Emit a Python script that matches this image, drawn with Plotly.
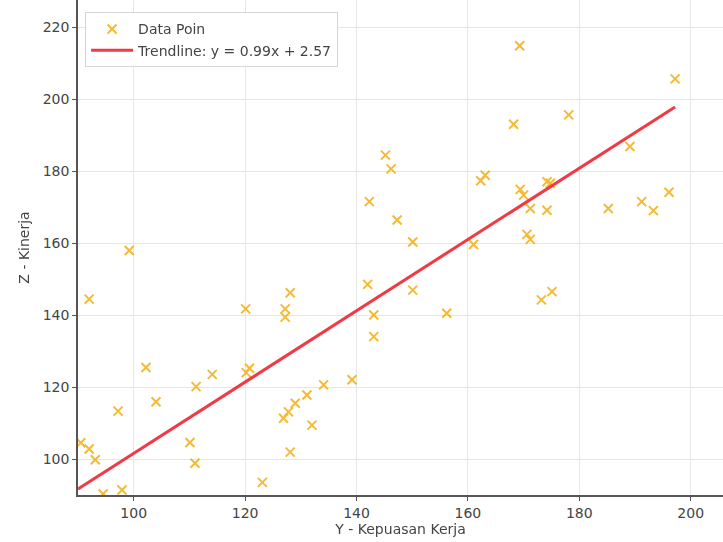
import plotly.graph_objects as go

kepuasan = [90.5, 92.0, 93.1, 92.0, 99.2, 97.2, 97.9, 94.5, 102.2, 104.0,
            111.2, 110.1, 111.0, 114.1, 120.1, 120.2, 120.8, 123.1, 127.2, 127.2,
            128.1, 126.9, 127.8, 129.0, 131.1, 132.0, 128.1, 134.1, 139.2, 142.0,
            143.1, 143.1, 150.1, 150.1, 156.2, 161.0, 170.6, 171.2, 173.2, 175.1,
            169.3, 197.2, 168.2, 178.1, 145.2, 146.2, 189.1, 142.3, 147.3, 162.3,
            163.1, 169.4, 170.0, 171.2, 174.2, 174.8, 174.2, 185.2, 191.2, 193.3,
            196.1]
kinerja = [104.5, 102.8, 99.8, 144.4, 157.9, 113.3, 91.4, 90.3, 125.4, 115.9,
           120.1, 104.6, 98.8, 123.5, 141.7, 124.0, 125.2, 93.5, 141.7, 139.4,
           146.2, 111.3, 113.1, 115.5, 117.8, 109.4, 101.9, 120.6, 122.0, 148.5,
           140.0, 134.0, 160.3, 146.9, 140.5, 159.6, 162.4, 161.0, 144.2, 146.5,
           214.8, 205.6, 193.0, 195.6, 184.4, 180.6, 186.8, 171.5, 166.4, 177.3,
           178.8, 174.9, 173.3, 169.6, 177.0, 176.6, 169.1, 169.6, 171.5, 169.0,
           174.1]

slope = 0.99
intercept = 2.57
x_range = [90, 205.8]
y_range = [90, 227.5]
y_ticks = [100, 120, 140, 160, 180, 200, 220]
x_ticks = [100, 120, 140, 160, 180, 200]

line_x = [90, max(kepuasan)]
line_y = [slope * v + intercept for v in line_x]

fig = go.Figure()
fig.add_trace(go.Scatter(
    x=kepuasan, y=kinerja, mode="markers", name="Data Poin",
    marker=dict(symbol="x-thin", size=9, color="#F4AE10",
                line=dict(width=2, color="#F4AE10")),
    opacity=0.85,
))
fig.add_trace(go.Scatter(
    x=line_x, y=line_y, mode="lines",
    name=f"Trendline: y = {slope:.2f}x + {intercept:.2f}",
    line=dict(color="#EE3B46", width=3),
))

axis_common = dict(
    showgrid=True, gridcolor="#E6E6E6", gridwidth=1,
    showline=True, linecolor="#555555", linewidth=1.5,
    ticks="outside", ticklen=4, tickcolor="#555555",
    tickfont=dict(family="DejaVu Sans", size=14, color="#444444"),
    zeroline=False,
)

fig.update_layout(
    width=723, height=542,
    margin=dict(l=78, r=0, t=0, b=47),
    paper_bgcolor="white", plot_bgcolor="white",
    showlegend=True,
    legend=dict(x=0.011, y=0.975, xanchor="left", yanchor="top",
                bgcolor="rgba(255,255,255,0.9)", bordercolor="#D5D5D5", borderwidth=1,
                font=dict(family="DejaVu Sans", size=14, color="#444444"),
                tracegroupgap=0, itemwidth=42),
    xaxis=dict(range=x_range, tickvals=x_ticks,
               title=dict(text="Y - Kepuasan Kerja", standoff=4,
                          font=dict(family="DejaVu Sans", size=14, color="#444444")),
               **axis_common),
    yaxis=dict(range=y_range, tickvals=y_ticks,
               title=dict(text="Z - Kinerja", standoff=10,
                          font=dict(family="DejaVu Sans", size=14, color="#444444")),
               **axis_common),
)

fig.write_html("out.html")
